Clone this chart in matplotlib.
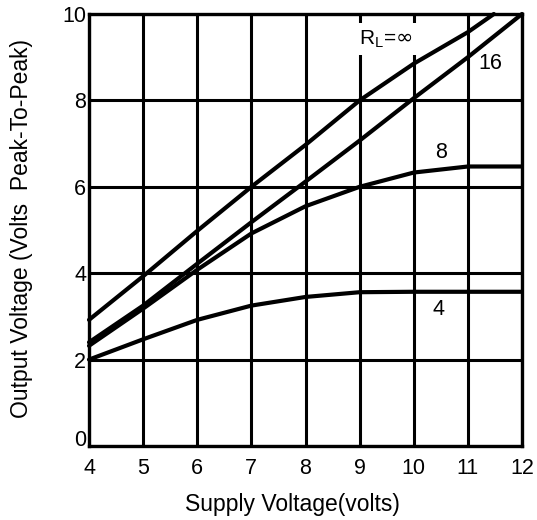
import matplotlib
matplotlib.use('Agg')
import matplotlib.pyplot as plt
import matplotlib.transforms as mtransforms

plt.rcParams['font.family'] = ['Liberation Sans', 'DejaVu Sans']

# curves (supply voltage -> output Vpp)
x_inf = [4, 5, 6, 7, 8, 9, 10, 11, 11.48]
y_inf = [2.92, 3.93, 4.98, 6.0, 6.97, 8.0, 8.85, 9.58, 10.0]

x_16 = [4, 5, 6, 7, 8, 9, 10, 11, 12]
y_16 = [2.4, 3.25, 4.22, 5.18, 6.12, 7.07, 8.05, 9.0, 10.0]

x_8 = [4, 5, 6, 7, 8, 9, 10, 11, 12]
y_8 = [2.32, 3.18, 4.08, 4.92, 5.55, 6.0, 6.33, 6.47, 6.47]

x_4 = [4, 5, 6, 7, 8, 9, 10, 11, 12]
y_4 = [2.0, 2.47, 2.92, 3.25, 3.45, 3.56, 3.57, 3.57, 3.57]

x_ticks = [4, 5, 6, 7, 8, 9, 10, 11, 12]
y_ticks = [0, 2, 4, 6, 8, 10]

fig = plt.figure(figsize=(5.37, 5.2), dpi=100)
ax = fig.add_axes([89/537, 1 - 446/520, 433/537, 432/520])

ax.set_xlim(4, 12)
ax.set_ylim(0, 10)
ax.set_xticks(x_ticks)
ax.set_yticks(y_ticks)
ax.grid(True, color='black', linewidth=2.2)
ax.set_axisbelow(True)
for s in ax.spines.values():
    s.set_linewidth(2.4)
    s.set_color('black')
ax.tick_params(length=0, labelsize=15.5)
ax.tick_params(axis='x', pad=9)
ax.tick_params(axis='y', pad=2)

for xs, ys in [(x_inf, y_inf), (x_16, y_16), (x_8, y_8), (x_4, y_4)]:
    ax.plot(xs, ys, color='black', linewidth=3.0, solid_capstyle='round', clip_on=False)

ax.text(9.49, 9.42, r'R$_\mathregular{L}$=$\infty$', fontsize=15, ha='center', va='center',
        bbox=dict(facecolor='white', edgecolor='none', pad=4))
ax.text(11.42, 8.85, '16', fontsize=15.5, ha='center', va='center')
ax.text(10.5, 6.79, '8', fontsize=15.5, ha='center', va='center')
ax.text(10.45, 3.15, '4', fontsize=15.5, ha='center', va='center')

# the "0" on the y axis sits a bit above its gridline
offset = mtransforms.ScaledTranslation(0, 8/100, fig.dpi_scale_trans)
lbl0 = ax.get_yticklabels()[0]
lbl0.set_transform(lbl0.get_transform() + offset)

fig.text(292/537, 1 - 505/520, 'Supply Voltage(volts)', fontsize=16.5, ha='center', va='center')
fig.text(22/537, 1 - 228/520, 'Output Voltage (Volts  Peak-To-Peak)', fontsize=16.5,
         ha='center', va='center', rotation=90)

fig.savefig('out.png', dpi=100)
